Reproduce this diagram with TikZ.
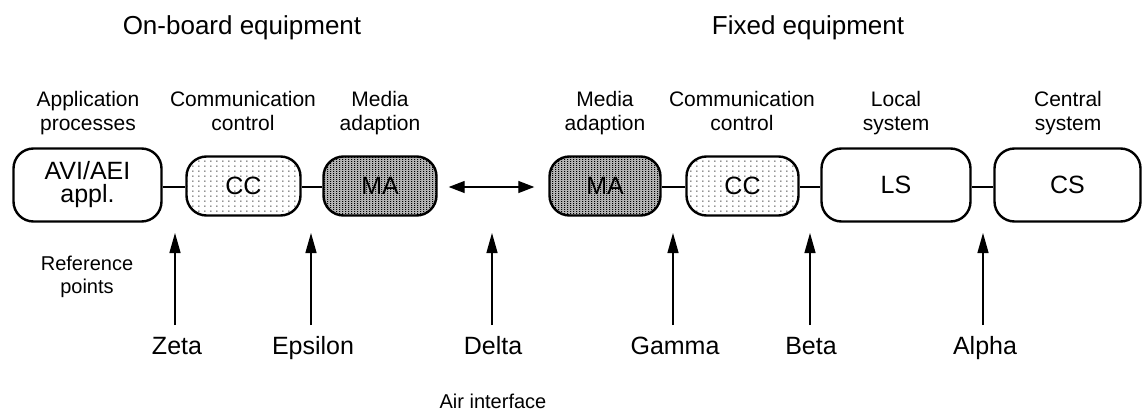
\documentclass[tikz,border=0pt]{standalone}
\usepackage{fontspec}
\setmainfont{Liberation Sans}
\usetikzlibrary{arrows.meta,patterns.meta}
\tikzdeclarepattern{
  name=sparsedots,
  type=colored,
  bottom left={(0pt,0pt)},
  top right={(6pt,4.5pt)},
  tile size={(6pt,4.5pt)},
  code={\fill[black] (0.4pt,0.4pt) rectangle (1.6pt,1.6pt);}
}
\tikzdeclarepattern{
  name=densedots,
  type=colored,
  bottom left={(0pt,0pt)},
  top right={(3pt,2pt)},
  tile size={(3pt,2pt)},
  code={\fill[black] (0.3pt,0.3pt) rectangle (1.6pt,1.3pt);}
}
\tikzset{
  bigbox/.style={draw, line width=2.4pt, rounded corners=20pt, fill=white,
    minimum width=#1, minimum height=73pt, inner sep=0pt, align=center,
    font=\fontsize{25}{23}\selectfont},
  ccbox/.style={draw, line width=2.4pt, rounded corners=20pt,
    preaction={fill=white}, pattern=sparsedots,
    minimum width=#1, minimum height=59pt, inner sep=0pt,
    font=\fontsize{25}{23}\selectfont},
  mabox/.style={draw, line width=2.4pt, rounded corners=20pt,
    preaction={fill=black!30}, pattern=densedots,
    minimum width=#1, minimum height=59pt, inner sep=0pt,
    font=\fontsize{25}{23}\selectfont},
  link/.style={line width=1.4pt},
  heading/.style={anchor=base, font=\fontsize{26}{30}\selectfont},
  layer/.style={anchor=base, align=center, font=\fontsize{21}{24}\selectfont},
  refname/.style={anchor=base, font=\fontsize{25}{28}\selectfont},
  note/.style={anchor=base, align=center, font=\fontsize{20}{23}\selectfont},
  refarrow/.style={line width=1.3pt, -{Triangle[length=20pt,width=11pt]}},
  airarrow/.style={line width=1.3pt, {Triangle[length=16pt,width=12pt]}-{Triangle[length=16pt,width=12pt]}},
}
\begin{document}
\begin{tikzpicture}[x=1pt,y=-1pt]
\useasboundingbox (0,0) rectangle (1144,410);

% headings
\node[heading] (hon) at (242,34) {On-board equipment};
\node[heading] (hfix) at (808,34) {Fixed equipment};

% layer labels (base = baseline of last line)
\node[layer] (l1) at (88,130) {Application\\processes};
\node[layer] (l2) at (243,130) {Communication\\control};
\node[layer] (l3) at (380,130) {Media\\adaption};
\node[layer] (l4) at (605,130) {Media\\adaption};
\node[layer] (l5) at (742,130) {Communication\\control};
\node[layer] (l6) at (896,130) {Local\\system};
\node[layer] (l7) at (1068,130) {Central\\system};

% boxes
\node[bigbox=148pt] (avi) at (87.5,185) {AVI/AEI\\appl.};
\node[ccbox=114pt] (cc1) at (243.5,186) {CC};
\node[mabox=113pt] (ma1) at (380,186) {MA};
\node[mabox=111pt] (ma2) at (605,186) {MA};
\node[ccbox=112pt] (cc2) at (742.5,186) {CC};
\node[bigbox=149pt] (ls) at (896,185) {LS};
\node[bigbox=146pt] (cs) at (1067.5,185) {CS};

% connectors
\draw[link] (avi.east |- 0,187) -- (cc1.west |- 0,187);
\draw[link] (cc1.east |- 0,187) -- (ma1.west |- 0,187);
\draw[link] (ma2.east |- 0,187) -- (cc2.west |- 0,187);
\draw[link] (cc2.east |- 0,187) -- (ls.west |- 0,187);
\draw[link] (ls.east |- 0,187) -- (cs.west |- 0,187);
\draw[airarrow, shorten <=11pt, shorten >=14pt] (ma1.east |- 0,187) -- (ma2.west |- 0,187);

% reference points
\node[note] (refpts) at (87,293) {Reference\\points};

\foreach \nm/\x/\lx/\txt in {zeta/175/177/Zeta, eps/311/313/Epsilon, delta/492/493/Delta,
                              gamma/673/675/Gamma, beta/810/811/Beta, alpha/983/985/Alpha}{
  \coordinate (\nm top) at (\x,233);
  \coordinate (\nm bot) at (\x,325);
  \node[refname] (\nm) at (\lx,354) {\txt};
  \draw[refarrow] (\nm bot) -- (\nm top);
}

\node[note] (air) at (493,408) {Air interface};
\end{tikzpicture}
\end{document}
